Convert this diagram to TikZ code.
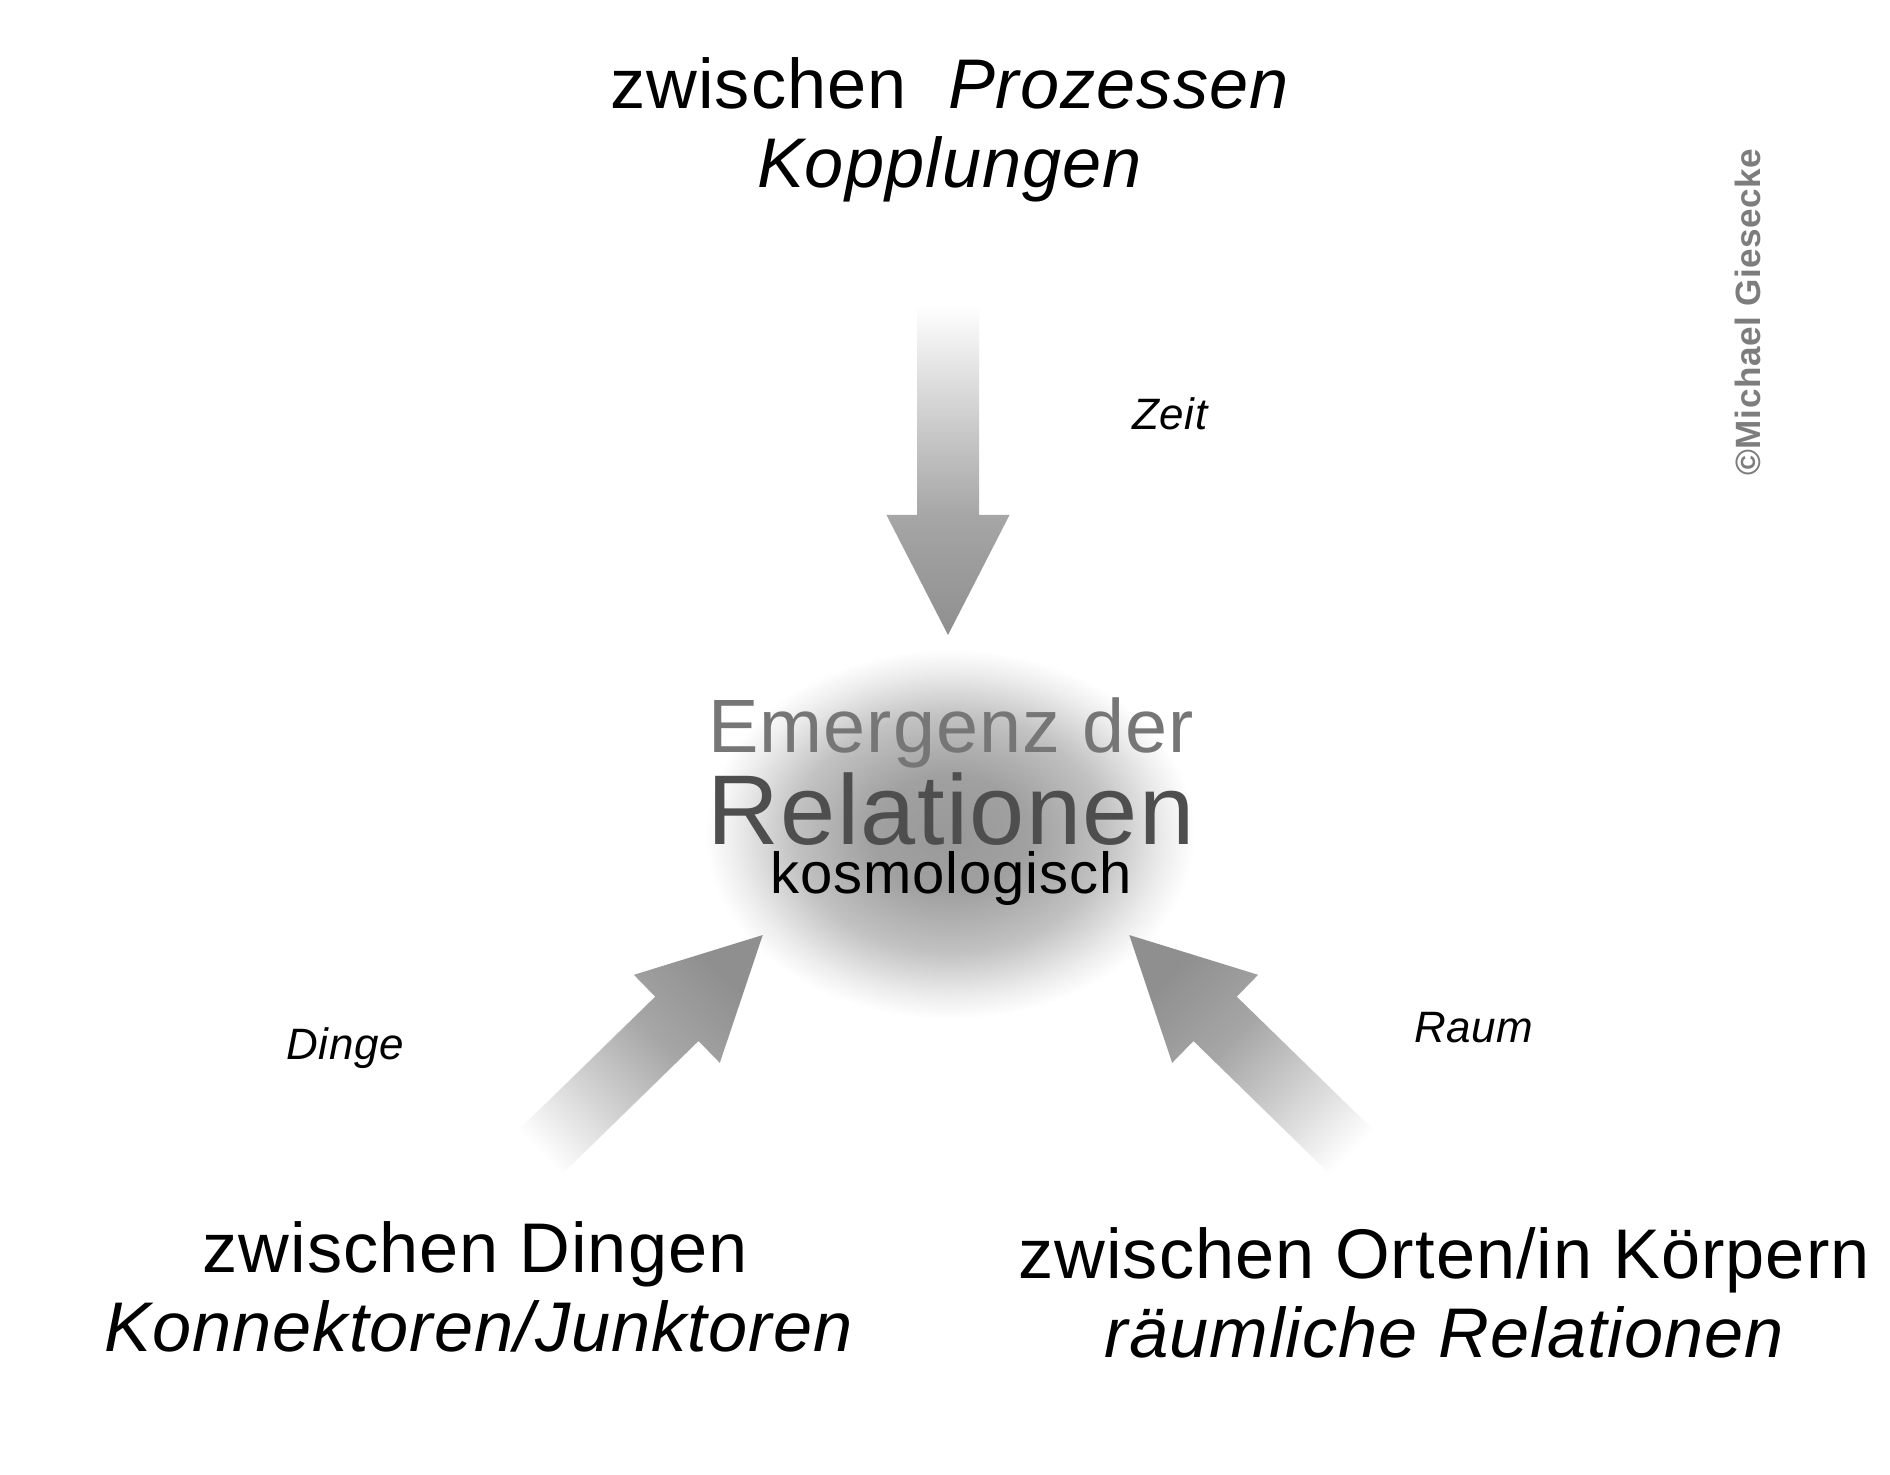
\documentclass[tikz,border=0pt]{standalone}
\usepackage{fontspec}
\setmainfont{Liberation Sans}[LetterSpace=1.5]
\usetikzlibrary{positioning}
\definecolor{copygray}{RGB}{125,125,125}
\definecolor{embossgray}{RGB}{118,118,118}
\definecolor{relgray}{RGB}{78,78,78}
\pgfdeclareverticalshading{arrowfade}{100bp}{color(0bp)=(white); color(25bp)=(white); color(41bp)=(black!18); color(57bp)=(black!35); color(75bp)=(black!44); color(100bp)=(black!44)}
\pgfdeclareradialshading{glow}{\pgfpoint{0bp}{0bp}}{color(0bp)=(black!40); color(8bp)=(black!37); color(16bp)=(black!24); color(22bp)=(black!7); color(25bp)=(white); color(50bp)=(white)}

\begin{document}
\begin{tikzpicture}[font=\fontsize{20}{24}\selectfont]
  \useasboundingbox[fill=white] (0,0) rectangle (18.9,14.74);
  % glow behind the centre
  \shade[shading=glow] (9.5,6.4) ellipse (2.45 and 1.85);
  % block arrows: tail x/y, direction, length
  \foreach \x/\y/\a/\l in {9.48/11.69/-90/3.3, 5.23/3.05/44.3/3.35, 13.69/3.05/135.7/3.35}
  {
    \pgfmathsetmacro{\s}{\a-90}
    \shade[shading=arrowfade, shading angle=\s, shift={(\x,\y)}, rotate=\a]
      (0,-0.31) -- (\l-1.2,-0.31) -- (\l-1.2,-0.615) -- (\l,0) -- (\l-1.2,0.615) -- (\l-1.2,0.31) -- (0,0.31) -- cycle;
    }

  % centre text
  \node[anchor=base, inner sep=0pt, text=embossgray, font=\fontsize{21.5}{24}\selectfont] (emerg) at (9.51,7.21) {Emergenz der};
  \node[anchor=base, inner sep=0pt, text=relgray, font=\fontsize{28.2}{30}\selectfont] (relat) at (9.51,6.30) {Relationen};
  \node[anchor=base, inner sep=0pt, font=\fontsize{16.5}{18}\selectfont] (kosmo) at (9.51,5.8) {kosmologisch};

  % the three sources
  \node[anchor=base] (proz) at (9.5,13.65) {zwischen\ \ \textit{Prozessen}};
  \node[anchor=base] (kopp) at (9.5,12.86) {\textit{Kopplungen}};
  \node[anchor=base] (ding) at (4.75,2.02) {zwischen Dingen};
  \node[anchor=base] (konn) at (4.79,1.23) {\textit{Konnektoren/Junktoren}};
  \node[anchor=base] (orte) at (14.44,1.96) {zwischen Orten/in Körpern};
  \node[anchor=base] (raeu) at (14.45,1.17) {\textit{räumliche Relationen}};

  % small labels
  \foreach \x/\y/\t [count=\i] in {11.7/10.6/Zeit, 3.45/4.26/Dinge, 14.74/4.46/Raum}
    \node[font=\fontsize{12.5}{15}\selectfont\itshape] (lab\i) at (\x,\y) {\t};

  \node[rotate=90, text=copygray, font=\fontsize{10}{12}\selectfont\bfseries] (copy) at (17.48,11.62) {©Michael Giesecke};
\end{tikzpicture}
\end{document}
